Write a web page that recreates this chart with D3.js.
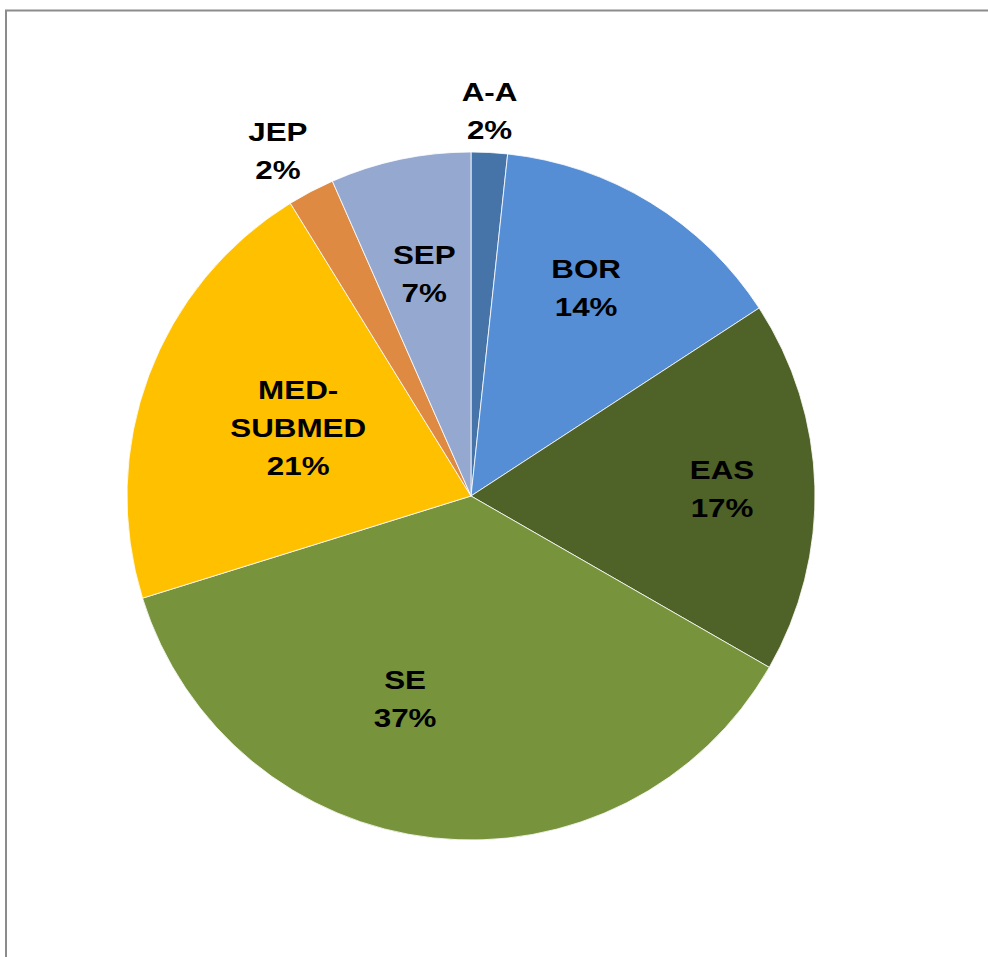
<!DOCTYPE html>
<html>
<head>
<meta charset="utf-8">
<script src="https://cdn.jsdelivr.net/npm/d3@7/dist/d3.min.js"></script>
<style>
html,body{margin:0;padding:0;background:#fff;}
svg{display:block;}
</style>
</head>
<body>
<svg id="chart" width="988" height="957"></svg>
<script>
// ---- data ----
const categories = ["A-A", "BOR", "EAS", "SE", "MED-SUBMED", "JEP", "SEP"];
const values = [1.7, 14.1, 17.5, 36.9, 21.0, 2.2, 6.6];
const percentLabels = ["2%", "14%", "17%", "37%", "21%", "2%", "7%"];
const colors = ["#4674A8", "#558ED5", "#4F6228", "#77933C", "#FFC000", "#DE8A43", "#95A9D0"];

// ---- label placement (radius factor, angle shift in degrees, name lines) ----
const labelLayout = {
  "A-A":        {rf: 1.12, da: -0.3, lines: ["A-A"]},
  "BOR":        {rf: 0.69, da: -2.5, lines: ["BOR"]},
  "EAS":        {rf: 0.73, da: 0,    lines: ["EAS"]},
  "SE":         {rf: 0.62, da: 11.7, lines: ["SE"]},
  "MED-SUBMED": {rf: 0.54, da: 1.0,  lines: ["MED-", "SUBMED"]},
  "JEP":        {rf: 1.15, da: -1.5, lines: ["JEP"]},
  "SEP":        {rf: 0.66, da: 0,    lines: ["SEP"]}
};

const svg = d3.select("#chart");
const W = 988, H = 957;

// chart area border (extends beyond the right/bottom edge)
svg.append("rect")
  .attr("x", 6).attr("y", 10.5)
  .attr("width", W + 20).attr("height", H + 20)
  .attr("fill", "#fff")
  .attr("stroke", "#8c8c8c").attr("stroke-width", 2);

const cx = 471, cy = 496, R = 344;
const g = svg.append("g").attr("transform", `translate(${cx},${cy})`);

const data = categories.map((c, i) => ({cat: c, value: values[i], pct: percentLabels[i], color: colors[i]}));
const pie = d3.pie().sort(null).value(d => d.value);
const arcs = pie(data);
const arc = d3.arc().innerRadius(0).outerRadius(R);

g.selectAll("path.slice")
  .data(arcs)
  .enter().append("path")
  .attr("class", "slice")
  .attr("d", arc)
  .attr("fill", d => d.data.color)
  .attr("stroke", "#ffffff")
  .attr("stroke-width", 0.8)
  .attr("stroke-linejoin", "round");

const lineH = 38;
const xStretch = 1.23;
arcs.forEach(d => {
  const lay = labelLayout[d.data.cat];
  const mid = (d.startAngle + d.endAngle) / 2 + lay.da * Math.PI / 180;
  const r = R * lay.rf;
  const x = r * Math.sin(mid);
  const y = -r * Math.cos(mid);
  const lines = lay.lines.concat([d.data.pct]);
  const n = lines.length;
  const t = g.append("text")
    .attr("transform", `translate(${x},${y}) scale(${xStretch},1)`)
    .attr("text-anchor", "middle")
    .attr("font-family", "Liberation Sans, Arial, sans-serif")
    .attr("font-weight", "bold")
    .attr("font-size", 25.5)
    .attr("fill", "#000");
  lines.forEach((s, i) => {
    t.append("tspan")
      .attr("x", 0)
      .attr("y", (i - (n - 1) / 2) * lineH + 9)
      .text(s);
  });
});
</script>
</body>
</html>
